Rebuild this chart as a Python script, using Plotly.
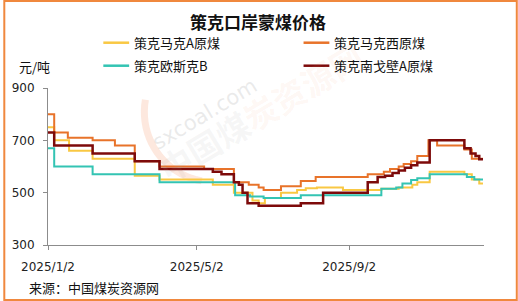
import math
import plotly.graph_objects as go

# ---------------- data ----------------
dates_makeA = ["2025-01-02", "2025-01-07", "2025-01-19", "2025-02-07", "2025-03-13", "2025-04-02",
               "2025-05-15", "2025-06-01", "2025-06-16", "2025-06-21", "2025-06-26", "2025-07-09",
               "2025-07-22", "2025-07-29", "2025-08-07", "2025-08-28", "2025-09-28", "2025-10-12",
               "2025-10-23", "2025-10-27", "2025-11-06", "2025-12-04", "2025-12-10", "2025-12-16",
               "2025-12-19"]
price_makeA = [750, 700, 660, 630, 565, 550, 530, 500, 470, 460, 480, 500, 510, 517, 520, 510, 515,
               520, 530, 540, 580, 570, 550, 535, 535]

dates_makexi = ["2025-01-02", "2025-01-07", "2025-01-18", "2025-02-07", "2025-02-25", "2025-03-13",
                "2025-04-02", "2025-05-08", "2025-06-01", "2025-06-13", "2025-06-21", "2025-06-25",
                "2025-07-09", "2025-07-25", "2025-08-06", "2025-09-17", "2025-09-30", "2025-10-05",
                "2025-10-12", "2025-10-16", "2025-10-22", "2025-10-27", "2025-11-05", "2025-11-12",
                "2025-12-04", "2025-12-10", "2025-12-19"]
price_makexi = [800, 730, 710, 700, 680, 620, 600, 590, 540, 530, 520, 510, 525, 545, 560, 570, 580,
                590, 600, 610, 620, 640, 700, 680, 665, 630, 630]

dates_ousikeB = ["2025-01-02", "2025-01-07", "2025-02-07", "2025-04-02", "2025-06-02", "2025-06-14",
                 "2025-06-25", "2025-07-25", "2025-09-28", "2025-10-10", "2025-10-15", "2025-10-22",
                 "2025-10-27", "2025-11-06", "2025-12-06", "2025-12-12", "2025-12-19"]
price_ousikeB = [670, 600, 570, 540, 490, 485, 480, 490, 515, 520, 535, 548, 555, 570, 560, 550, 550]

dates_nangebiA = ["2025-01-02", "2025-01-07", "2025-02-07", "2025-03-13", "2025-04-02", "2025-05-15",
                  "2025-05-22", "2025-06-01", "2025-06-05", "2025-06-08", "2025-06-12", "2025-06-21",
                  "2025-07-25", "2025-08-12", "2025-09-17", "2025-09-25", "2025-10-01", "2025-10-07",
                  "2025-10-12", "2025-10-17", "2025-10-22", "2025-10-27", "2025-11-06", "2025-12-04",
                  "2025-12-09", "2025-12-13", "2025-12-16", "2025-12-19"]
price_nangebiA = [730, 680, 650, 620, 590, 580, 570, 540, 530, 500, 460, 450, 460, 500, 540, 560, 565,
                  575, 585, 595, 605, 615, 700, 670, 650, 640, 628, 628]

series_names = ["策克马克A原煤", "策克马克西原煤", "策克欧斯克B", "策克南戈壁A原煤"]
series_colors = ["#F9C843", "#E8732A", "#33C4B3", "#7D0A0A"]
x_tickvals = ["2025-01-02", "2025-05-02", "2025-09-02"]
x_ticktext = ["2025/1/2", "2025/5/2", "2025/9/2"]
y_tickvals = [300, 500, 700, 900]

title_text = "策克口岸蒙煤价格"
unit_text = "元/吨"
source_text = "来源：中国煤炭资源网"

# ---------------- layout helpers ----------------
W, H = 518, 301
ML, MR, MT, MB = 45, 34, 88, 56
PW, PH = W - ML - MR, H - MT - MB


def px(xp):
    return (xp - ML) / PW


def py(yp):
    return (H - MB - yp) / PH


CJK = "Noto Sans CJK SC"
NUM = "DejaVu Sans"

fig = go.Figure()
all_dates = [dates_makeA, dates_makexi, dates_ousikeB, dates_nangebiA]
all_prices = [price_makeA, price_makexi, price_ousikeB, price_nangebiA]
widths = [2, 2, 2, 2.5]
for d, p, n, c, w in zip(all_dates, all_prices, series_names, series_colors, widths):
    fig.add_trace(go.Scatter(x=d, y=p, name=n, mode="lines", line=dict(color=c, width=w, shape="hv"),
                             showlegend=False, hoverinfo="skip"))

shapes = []
annotations = []

# watermark: faint orange arc
cx, cy, r = 212, 112, 70
arc_pts = []
for k in range(0, 21):
    a = math.radians(100 + k * 4.5)
    arc_pts.append((cx + r * math.cos(a), cy + r * math.sin(a)))
path = "M " + " L ".join(f"{px(x):.4f},{py(y):.4f}" for x, y in arc_pts)
shapes.append(dict(type="path", xref="paper", yref="paper", path=path, layer="below",
                   line=dict(color="rgba(250,190,160,0.35)", width=7)))

annotations.append(dict(xref="paper", yref="paper", x=px(203), y=py(114), text="sxcoal.com",
                        showarrow=False, textangle=-31, xanchor="center", yanchor="middle",
                        font=dict(family=NUM, size=21, color="rgba(195,195,195,0.35)")))
annotations.append(dict(xref="paper", yref="paper", x=px(259), y=py(112),
                        text="<b><span style='color:rgba(165,165,165,0.33)'>中国煤</span>"
                             "<span style='color:rgba(245,150,110,0.27)'>炭资源网</span></b>",
                        showarrow=False, textangle=-31, xanchor="center", yanchor="middle",
                        font=dict(family=CJK, size=33, color="rgba(170,170,170,0.3)")))

# title
annotations.append(dict(xref="paper", yref="paper", x=px(256), y=py(21), text="<b>" + title_text + "</b>",
                        showarrow=False, xanchor="center", yanchor="middle",
                        font=dict(family=CJK, size=17, color="#111")))

# manual legend
leg_pos = [(100.7, 42.7), (302.3, 42.7), (100.7, 65.7), (302.3, 65.7)]
for (lx, ly), n, c in zip(leg_pos, series_names, series_colors):
    shapes.append(dict(type="line", xref="paper", yref="paper", x0=px(lx), x1=px(lx + 26),
                       y0=py(ly), y1=py(ly), line=dict(color=c, width=2.5)))
    annotations.append(dict(xref="paper", yref="paper", x=px(lx + 29), y=py(ly), text=n,
                            showarrow=False, xanchor="left", yanchor="middle",
                            font=dict(family=CJK, size=13, color="#111")))

annotations.append(dict(xref="paper", yref="paper", x=px(14), y=py(66), text=unit_text,
                        showarrow=False, xanchor="left", yanchor="middle",
                        font=dict(family=CJK, size=13, color="#111")))
annotations.append(dict(xref="paper", yref="paper", x=px(24), y=py(287), text=source_text,
                        showarrow=False, xanchor="left", yanchor="middle",
                        font=dict(family=CJK, size=13, color="#111")))

# border
shapes.append(dict(type="rect", xref="paper", yref="paper", x0=px(1), x1=px(517), y0=py(300), y1=py(1),
                   line=dict(color="#F0883E", width=2), fillcolor="rgba(0,0,0,0)", layer="above"))

fig.update_layout(
    width=W, height=H,
    margin=dict(l=ML, r=MR, t=MT, b=MB, pad=0),
    paper_bgcolor="white", plot_bgcolor="white",
    showlegend=False,
    shapes=shapes, annotations=annotations,
    xaxis=dict(type="date", range=["2025-01-02", "2025-12-19 20:00"], tickvals=x_tickvals,
               ticktext=x_ticktext, showline=True, linecolor="#8c8c8c", linewidth=1,
               ticks="outside", ticklen=4, tickcolor="#8c8c8c", showgrid=False, zeroline=False,
               ticklabelstandoff=7, tickfont=dict(family=NUM, size=12, color="#222")),
    yaxis=dict(range=[300, 900], tickvals=y_tickvals, showline=True, linecolor="#8c8c8c", linewidth=1,
               ticks="outside", ticklen=4, tickcolor="#8c8c8c", showgrid=False, zeroline=False,
               ticklabelstandoff=6, tickfont=dict(family=NUM, size=12, color="#222")),
)

fig.write_html("out.html")
